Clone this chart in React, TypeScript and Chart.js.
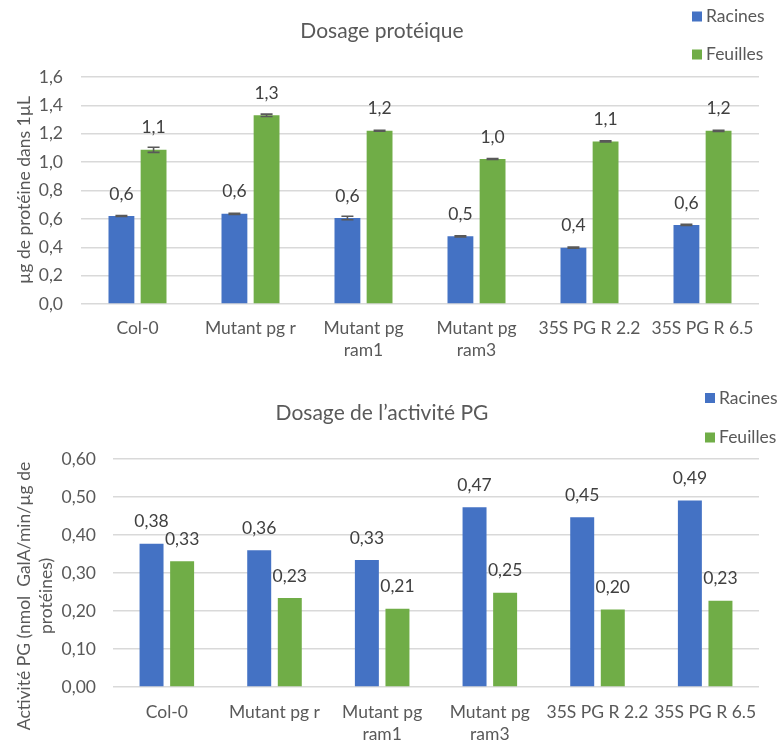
import React, { useEffect, useRef } from "react";
import { Chart, registerables } from "chart.js";

Chart.register(...registerables);

// ---------- data ----------
const categories: string[][] = [
  ["Col-0"],
  ["Mutant pg r"],
  ["Mutant pg", "ram1"],
  ["Mutant pg", "ram3"],
  ["35S PG R 2.2"],
  ["35S PG R 6.5"],
];
const seriesNames = ["Racines", "Feuilles"];
const seriesColors = ["#4472C4", "#70AD47"];

// Chart 1: Dosage protéique
const proteinTitle = "Dosage protéique";
const proteinYTitle = ["µg de protéine dans 1µL"];
const proteinRacines = [0.62, 0.636, 0.606, 0.477, 0.397, 0.557];
const proteinFeuilles = [1.087, 1.33, 1.221, 1.022, 1.146, 1.221];
const proteinRacinesErr = [0.003, 0.004, 0.012, 0.004, 0.004, 0.004];
const proteinFeuillesErr = [0.018, 0.008, 0.003, 0.004, 0.004, 0.004];
const proteinMax = 1.6;
const proteinStep = 0.2;

// Chart 2: Dosage de l'activité PG
const activityTitle = "Dosage de l’activité PG";
const activityYTitle = ["Activité PG (nmol  GalA/min/µg de", "protéines)"];
const activityRacines = [0.377, 0.36, 0.334, 0.473, 0.447, 0.491];
const activityFeuilles = [0.331, 0.234, 0.206, 0.248, 0.204, 0.227];
const activityMax = 0.6;
const activityStep = 0.1;

// ---------- styling ----------
const FONT = "Lato, 'Open Sans', sans-serif";
const TEXT = "#595959";
const LABEL = "#404040";
const GRID = "#D9D9D9";
const FS = 17.5;

type Spec = {
  height: number;
  title: string;
  titleX: number;
  titleY: number;
  yTitle: string[];
  yTitleX: number[];
  yTitleY: number;
  legendX: number;
  legendY: number[];
  area: { left: number; right: number; top: number; bottom: number };
  max: number;
  step: number;
  tickDecimals: number;
  labelDecimals: number;
  values: number[][];
  errors?: number[][];
  catPct: number;
  barPct: number;
  xPad: number;
  yPad: number;
};

const fmt = (v: number, d: number) => v.toFixed(d).replace(".", ",");

function makeConfig(spec: Spec): any {
  const W = 780;
  const decorPlugin = {
    id: "decor",
    afterDatasetsDraw(chart: any) {
      const ctx = chart.ctx;
      const yScale = chart.scales.y;
      ctx.save();
      chart.data.datasets.forEach((ds: any, di: number) => {
        const meta = chart.getDatasetMeta(di);
        meta.data.forEach((el: any, i: number) => {
          const v = ds.data[i];
          if (spec.errors) {
            const e = spec.errors[di][i];
            const yT = yScale.getPixelForValue(v + e);
            const yB = yScale.getPixelForValue(v - e);
            ctx.strokeStyle = "#595959";
            ctx.lineWidth = 1.6;
            ctx.beginPath();
            ctx.moveTo(el.x, yT);
            ctx.lineTo(el.x, yB);
            ctx.moveTo(el.x - 6, yT);
            ctx.lineTo(el.x + 6, yT);
            ctx.moveTo(el.x - 6, yB);
            ctx.lineTo(el.x + 6, yB);
            ctx.stroke();
          }
          ctx.fillStyle = LABEL;
          ctx.font = `${FS}px ${FONT}`;
          ctx.textAlign = "center";
          ctx.textBaseline = "middle";
          ctx.fillText(fmt(v, spec.labelDecimals), el.x, el.y - 22);
        });
      });
      ctx.restore();
    },
    afterDraw(chart: any) {
      const ctx = chart.ctx;
      ctx.save();
      ctx.fillStyle = TEXT;
      ctx.font = `21px ${FONT}`;
      ctx.textAlign = "center";
      ctx.textBaseline = "middle";
      ctx.fillText(spec.title, spec.titleX, spec.titleY);
      ctx.font = `${FS}px ${FONT}`;
      ctx.textAlign = "left";
      chart.data.datasets.forEach((ds: any, di: number) => {
        const cy = spec.legendY[di];
        ctx.fillStyle = ds.backgroundColor;
        ctx.fillRect(spec.legendX, cy - 5, 10, 10);
        ctx.fillStyle = TEXT;
        ctx.fillText(ds.label, spec.legendX + 14, cy);
      });
      ctx.font = `${FS}px ${FONT}`;
      ctx.textAlign = "center";
      spec.yTitle.forEach((line, li) => {
        ctx.save();
        ctx.translate(spec.yTitleX[li], spec.yTitleY);
        ctx.rotate(-Math.PI / 2);
        ctx.fillText(line, 0, 0);
        ctx.restore();
      });
      ctx.restore();
    },
  };

  return {
    type: "bar",
    data: {
      labels: categories,
      datasets: seriesNames.map((name, i) => ({
        label: name,
        data: spec.values[i],
        backgroundColor: seriesColors[i],
        borderWidth: 0,
        categoryPercentage: spec.catPct,
        barPercentage: spec.barPct,
      })),
    },
    options: {
      responsive: false,
      animation: false,
      devicePixelRatio: 1,
      layout: {
        padding: {
          left: 0,
          top: spec.area.top,
          right: W - spec.area.right,
          bottom: 0,
        },
      },
      plugins: {
        legend: { display: false },
        title: { display: false },
        tooltip: { enabled: false },
      },
      scales: {
        x: {
          grid: { display: false, drawTicks: false },
          border: { display: false },
          ticks: {
            color: TEXT,
            font: { family: FONT, size: FS, lineHeight: 1.26 },
            padding: spec.xPad,
            maxRotation: 0,
            autoSkip: false,
          },
          afterFit(scale: any) {
            scale.height = spec.height - spec.area.bottom;
          },
        },
        y: {
          min: 0,
          max: spec.max,
          grid: { color: GRID, lineWidth: 1.5, drawTicks: false },
          border: { display: false },
          ticks: {
            stepSize: spec.step,
            color: TEXT,
            font: { family: FONT, size: FS },
            padding: spec.yPad,
            callback: (v: number) => fmt(v, spec.tickDecimals),
          },
          afterFit(scale: any) {
            scale.width = spec.area.left;
          },
        },
      },
    },
    plugins: [decorPlugin],
  };
}

const proteinSpec: Spec = {
  height: 370,
  title: proteinTitle,
  titleX: 382,
  titleY: 31,
  yTitle: proteinYTitle,
  yTitleX: [24],
  yTitleY: 190,
  legendX: 692,
  legendY: [16.5, 54.5],
  area: { left: 81, right: 759, top: 77, bottom: 304 },
  max: proteinMax,
  step: proteinStep,
  tickDecimals: 1,
  labelDecimals: 1,
  values: [proteinRacines, proteinFeuilles],
  errors: [proteinRacinesErr, proteinFeuillesErr],
  catPct: 0.569,
  barPct: 0.804,
  xPad: 13,
  yPad: 18,
};

const activitySpec: Spec = {
  height: 372,
  title: activityTitle,
  titleX: 382,
  titleY: 43,
  yTitle: activityYTitle,
  yTitleX: [24.5, 46],
  yTitleY: 226,
  legendX: 705,
  legendY: [28, 67.5],
  area: { left: 113, right: 759, top: 89, bottom: 317 },
  max: activityMax,
  step: activityStep,
  tickDecimals: 2,
  labelDecimals: 2,
  values: [activityRacines, activityFeuilles],
  catPct: 0.568,
  barPct: 0.784,
  xPad: 14,
  yPad: 17,
};

function BarChart({ spec }: { spec: Spec }) {
  const ref = useRef<HTMLCanvasElement | null>(null);
  useEffect(() => {
    if (!ref.current) return;
    const chart = new Chart(ref.current, makeConfig(spec));
    return () => chart.destroy();
  }, [spec]);
  return (
    <canvas
      ref={ref}
      width={780}
      height={spec.height}
      style={{ display: "block", width: 780, height: spec.height }}
    />
  );
}

export default function App() {
  return (
    <div style={{ position: "absolute", left: 0, top: 0, width: 780, height: 742, background: "#fff" }}>
      <BarChart spec={proteinSpec} />
      <BarChart spec={activitySpec} />
    </div>
  );
}
